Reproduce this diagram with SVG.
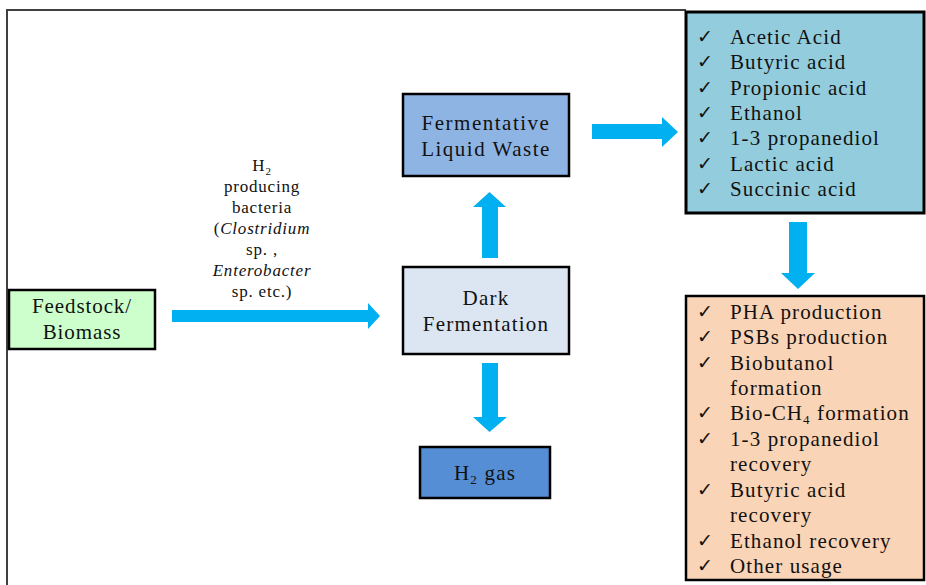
<svg xmlns="http://www.w3.org/2000/svg" width="926" height="585" viewBox="0 0 926 585">
<style>
text{font-family:'Liberation Serif','Times New Roman',serif}
.lbl{font-size:21px;fill:#111;text-anchor:middle;letter-spacing:1.2px}
.lst{font-size:21px;fill:#111;letter-spacing:1.1px}
.chk{font-family:'DejaVu Serif',serif;font-size:19px;fill:#111}
.bac{font-size:17px;fill:#111;text-anchor:middle;letter-spacing:0.8px}
.box{stroke:#000;stroke-width:2.5}
.arr{fill:#00b0f0}
</style>
<rect width="926" height="585" fill="#fff"/>
<path d="M7 585 V10 H686" fill="none" stroke="#404040" stroke-width="2"/>

<g id="connectors">
<polygon class="arr" points="172,310 368,310 368,303 380,316 368,329 368,322 172,322"/>
<polygon class="arr" points="482,258 482,207 473,207 489.5,192 506,207 498,207 498,258"/>
<polygon class="arr" points="482,363 498,363 498,417 507,417 489.5,432 473,417 482,417"/>
<polygon class="arr" points="592,124 662,124 662,117 678,132 662,147 662,139 592,139"/>
<polygon class="arr" points="789,222 807,222 807,273 815,273 798,289 781,273 789,273"/>
</g>

<g id="bacteria-label">
<text class="bac" x="262" y="171" font-family="Liberation Serif, serif">H<tspan font-size="11" dy="4">2</tspan></text>
<text class="bac" x="262" y="192" font-family="Liberation Serif, serif">producing</text>
<text class="bac" x="262" y="213" font-family="Liberation Serif, serif">bacteria</text>
<text class="bac" x="262" y="234" font-family="Liberation Serif, serif">(<tspan font-style="italic">Clostridium</tspan></text>
<text class="bac" x="262" y="255" font-family="Liberation Serif, serif">sp. ,</text>
<text class="bac" x="262" y="276" font-family="Liberation Serif, serif" font-style="italic">Enterobacter</text>
<text class="bac" x="262" y="297" font-family="Liberation Serif, serif">sp. etc.)</text>
</g>

<g id="feedstock">
<rect class="box" x="9" y="290" width="146" height="59" fill="#ccffcc"/>
<text class="lbl" x="82" y="313" style="letter-spacing:0.9px">Feedstock/</text>
<text class="lbl" x="82" y="339" style="letter-spacing:0.9px">Biomass</text>
</g>

<g id="dark-fermentation">
<rect class="box" x="403" y="267" width="166" height="87" fill="#dce6f2"/>
<text class="lbl" x="486" y="305">Dark</text>
<text class="lbl" x="486" y="331">Fermentation</text>
</g>

<g id="liquid-waste">
<rect class="box" x="403" y="94" width="166" height="82" fill="#8eb4e3"/>
<text class="lbl" x="486" y="130" style="letter-spacing:1.5px">Fermentative</text>
<text class="lbl" x="486" y="156" style="letter-spacing:1.5px">Liquid Waste</text>
</g>

<g id="h2-gas">
<rect class="box" x="420" y="447" width="130" height="51" fill="#558ed5"/>
<text class="lbl" x="485" y="480">H<tspan font-size="13" dy="4">2</tspan><tspan dy="-4"> gas</tspan></text>
</g>

<g id="acids">
<rect x="686" y="12" width="238" height="201" fill="#93cddd" stroke="#000" stroke-width="3"/>
<text class="chk" x="697" y="43">✓</text><text class="lst" x="730" y="44">Acetic Acid</text>
<text class="chk" x="697" y="68">✓</text><text class="lst" x="730" y="69">Butyric acid</text>
<text class="chk" x="697" y="94">✓</text><text class="lst" x="730" y="95">Propionic acid</text>
<text class="chk" x="697" y="119">✓</text><text class="lst" x="730" y="120">Ethanol</text>
<text class="chk" x="697" y="144">✓</text><text class="lst" x="730" y="145">1-3 propanediol</text>
<text class="chk" x="697" y="170">✓</text><text class="lst" x="730" y="171">Lactic acid</text>
<text class="chk" x="697" y="195">✓</text><text class="lst" x="730" y="196">Succinic acid</text>
</g>

<g id="applications">
<rect x="686" y="296" width="238" height="284" fill="#fad4b6" stroke="#000" stroke-width="2.5"/>
<text class="chk" x="697" y="318">✓</text><text class="lst" x="730" y="319">PHA production</text>
<text class="chk" x="697" y="343">✓</text><text class="lst" x="730" y="344">PSBs production</text>
<text class="chk" x="697" y="369">✓</text><text class="lst" x="730" y="370">Biobutanol</text>
<text class="lst" x="730" y="395">formation</text>
<text class="chk" x="697" y="419">✓</text><text class="lst" x="730" y="420">Bio-CH<tspan font-size="13" dy="4">4</tspan><tspan dy="-4"> formation</tspan></text>
<text class="chk" x="697" y="445">✓</text><text class="lst" x="730" y="446">1-3 propanediol</text>
<text class="lst" x="730" y="471">recovery</text>
<text class="chk" x="697" y="496">✓</text><text class="lst" x="730" y="497">Butyric acid</text>
<text class="lst" x="730" y="522">recovery</text>
<text class="chk" x="697" y="547">✓</text><text class="lst" x="730" y="548">Ethanol recovery</text>
<text class="chk" x="697" y="572">✓</text><text class="lst" x="730" y="573">Other usage</text>
</g>
</svg>
